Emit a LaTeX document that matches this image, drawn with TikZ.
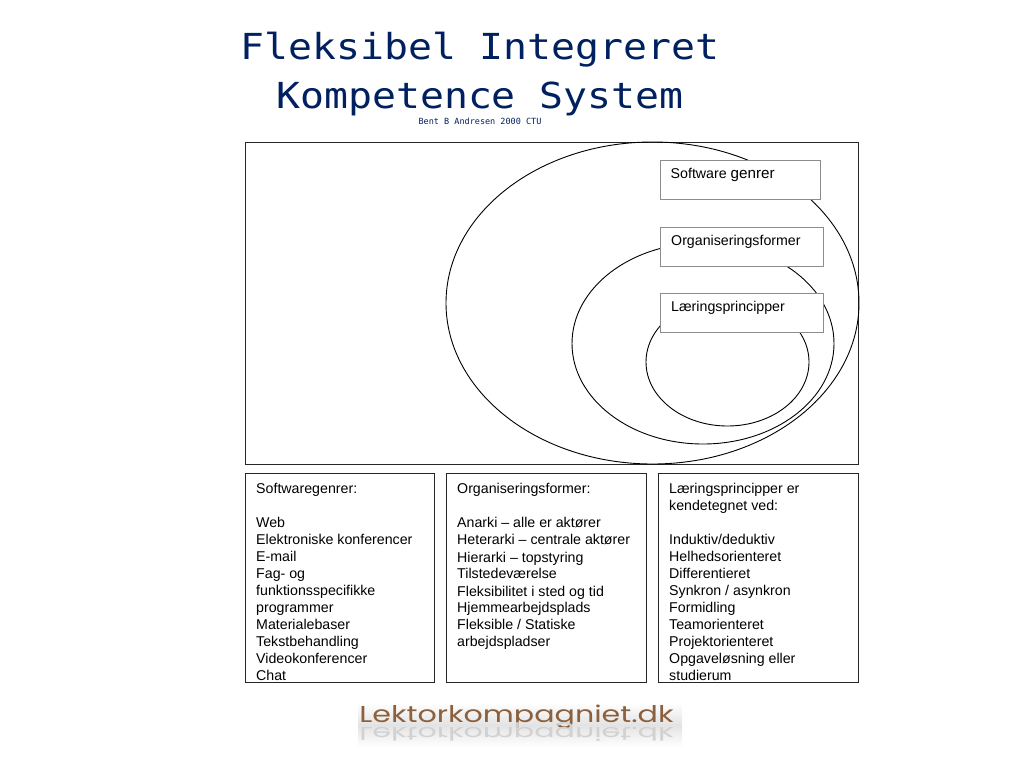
\documentclass[tikz,border=0pt]{standalone}
\usepackage{fontspec}
\setmainfont{Liberation Sans}
\newfontfamily\titlefont{DejaVu Sans Mono}
\newfontfamily\logofont{Poppins}
\definecolor{navytitle}{RGB}{0,32,96}
\definecolor{logobrown}{RGB}{140,96,60}
\tikzset{
  x=1pt,y=-1pt,
  ring/.style={draw=black,line width=0.9pt},
  frame/.style={draw=black!85,line width=0.8pt},
  tagbox/.style={draw=black!45,line width=0.6pt,fill=white},
  taglabel/.style={anchor=base west,inner sep=0pt,font=\fontsize{14.2}{16}\selectfont},
  infotext/.style={anchor=north west,inner sep=0pt,align=left,font=\fontsize{14.2}{17}\selectfont},
  titleline/.style={inner sep=0pt,yscale=0.9,text=navytitle,font=\titlefont\fontsize{39.8}{40}\selectfont},
  logotext/.style={inner sep=0pt,anchor=base,xscale=1.31,font=\logofont\fontsize{23}{24}\selectfont},
}
\begin{document}
\begin{tikzpicture}
\useasboundingbox (0,0) rectangle (1024,768);
% title
\node[titleline,anchor=base] (t1) at (480,59.5) {Fleksibel Integreret};
\node[titleline,anchor=base] (t2) at (480,108) {Kompetence System};
\node[inner sep=0pt,anchor=base,text=navytitle,font=\titlefont\fontsize{8.5}{9}\selectfont] (t3) at (480,124) {Bent B Andresen 2000 CTU};
% main frame and rings
\draw[frame] (245.7,142) rectangle (858.5,464);
\draw[ring] (652.5,303) ellipse [x radius=206.5, y radius=161];
\draw[ring] (703,343.5) ellipse [x radius=131, y radius=100.5];
\draw[ring] (727.5,362) ellipse [x radius=81.5, y radius=64];
% tags
\draw[tagbox] (660,160.5) rectangle (820.5,199.5);
\node[taglabel] (a) at (670.5,178.5) {Software {\fontsize{15.2}{16}\selectfont genrer}};
\draw[tagbox] (660,227) rectangle (823.5,266);
\node[taglabel] (b) at (671,245) {Organiseringsformer};
\draw[tagbox] (660,293.5) rectangle (823.5,332.5);
\node[taglabel] (c) at (671,311.5) {Læringsprincipper};
% info boxes
\draw[frame] (245.7,473) rectangle (434.5,682);
\node[infotext] (s) at (256,483.5) {Softwaregenrer:\\\mbox{}\\Web\\Elektroniske konferencer\\E-mail\\Fag- og\\funktionsspecifikke\\programmer\\Materialebaser\\Tekstbehandling\\Videokonferencer\\Chat};
\draw[frame] (446,473) rectangle (646.5,682);
\node[infotext] (o) at (457,483.5) {Organiseringsformer:\\\mbox{}\\Anarki – alle er aktører\\Heterarki – centrale aktører\\Hierarki – topstyring\\Tilstedeværelse\\Fleksibilitet i sted og tid\\Hjemmearbejdsplads\\Fleksible / Statiske\\arbejdspladser};
\draw[frame] (658,473) rectangle (858.5,682);
\node[infotext] (l) at (669,483) {Læringsprincipper er\\kendetegnet ved:\\\mbox{}\\Induktiv/deduktiv\\Helhedsorienteret\\Differentieret\\Synkron / asynkron\\Formidling\\Teamorienteret\\Projektorienteret\\Opgaveløsning eller\\studierum};
% logo
\shade[top color=white,bottom color=white,middle color=black!11] (358,703) rectangle (682,747);
\node[logotext,text=logobrown] (lg) at (516.5,722.5) {Lektorkompagniet.dk};
\node[logotext,text=black!18,yscale=-0.8] (lr) at (516.5,727) {Lektorkompagniet.dk};
\end{tikzpicture}
\end{document}
